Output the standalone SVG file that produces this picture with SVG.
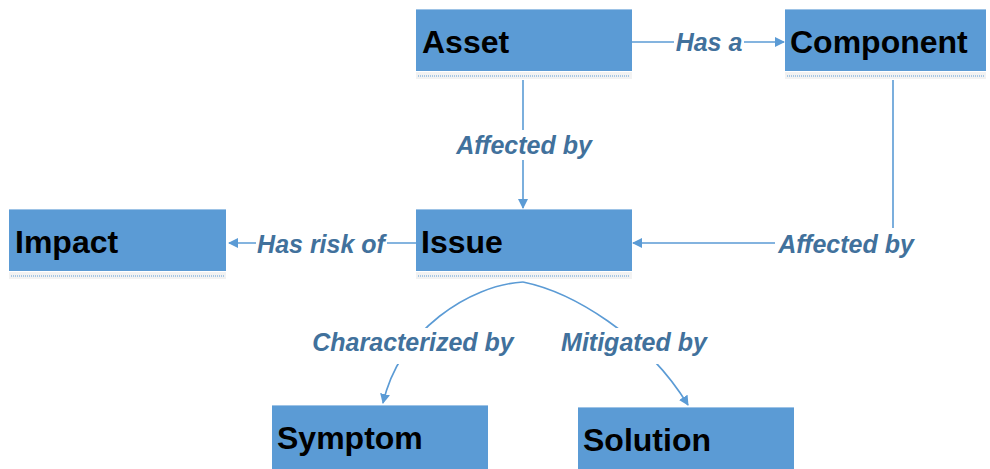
<svg xmlns="http://www.w3.org/2000/svg" width="990" height="469" viewBox="0 0 990 469">
  <style>
    .box { fill: #5b9bd5; }
    .top { stroke: #9dc3e6; stroke-width: 1; }
    .shadow { fill: #f2f2f2; }
    .dots { stroke: #5b9bd5; stroke-width: 1; stroke-dasharray: 1 1; }
    .name { font-family: "Liberation Sans", Arial, sans-serif; font-weight: bold; font-size: 32px; fill: #000; }
    .edge { fill: none; stroke: #5b9bd5; stroke-width: 1.6; }
    .lbl { font-family: "Liberation Sans", Arial, sans-serif; font-weight: bold; font-style: italic; font-size: 25px; fill: #41719c; text-anchor: middle; }
    .bg { fill: #ffffff; }
  </style>
  <defs>
    <marker id="arrow" viewBox="0 0 10 10" refX="9" refY="5" markerWidth="10" markerHeight="10" markerUnits="userSpaceOnUse" orient="auto">
      <path d="M0,0 L10,5 L0,10 z" fill="#5b9bd5"/>
    </marker>
  </defs>

  <rect width="990" height="469" fill="#ffffff"/>

  <!-- connectors -->
  <g id="connectors">
    <path class="edge" d="M632,42 H784" marker-end="url(#arrow)"/>
    <path class="edge" d="M523,80 V208" marker-end="url(#arrow)"/>
    <path class="edge" d="M893,80 V243 H633" marker-end="url(#arrow)"/>
    <path class="edge" d="M416,243 H229" marker-end="url(#arrow)"/>
    <path class="edge" d="M523,282 C470,285 400,330 383,403" marker-end="url(#arrow)"/>
    <path class="edge" d="M523,282 C572,292 645,335 688,405" marker-end="url(#arrow)"/>

    <rect class="bg" x="674" y="30" width="70" height="26"/>
    <text class="lbl" x="709" y="51">Has a</text>

    <rect class="bg" x="454" y="130" width="140" height="30"/>
    <text class="lbl" x="524" y="154">Affected by</text>

    <rect class="bg" x="775" y="228" width="143" height="32"/>
    <text class="lbl" x="846" y="253">Affected by</text>

    <rect class="bg" x="256" y="230" width="131" height="30"/>
    <text class="lbl" x="321" y="253">Has risk of</text>

    <rect class="bg" x="310" y="328" width="207" height="36"/>
    <text class="lbl" x="413" y="351">Characterized by</text>

    <rect class="bg" x="553" y="328" width="162" height="36"/>
    <text class="lbl" x="634" y="351">Mitigated by</text>
  </g>

  <g id="asset">
    <rect class="shadow" x="416" y="72" width="216" height="7"/>
    <line class="dots" x1="418" y1="76" x2="630" y2="76"/>
    <rect class="box" x="416" y="9" width="216" height="62"/>
    <line class="top" x1="416" y1="9.5" x2="632" y2="9.5"/>
    <text class="name" x="422" y="53">Asset</text>
  </g>

  <g id="component">
    <rect class="shadow" x="785" y="72" width="201" height="7"/>
    <line class="dots" x1="787" y1="76" x2="984" y2="76"/>
    <rect class="box" x="785" y="9" width="201" height="62"/>
    <line class="top" x1="785" y1="9.5" x2="986" y2="9.5"/>
    <text class="name" x="790" y="53">Component</text>
  </g>

  <g id="impact">
    <rect class="shadow" x="9" y="272" width="217" height="7"/>
    <line class="dots" x1="11" y1="276" x2="224" y2="276"/>
    <rect class="box" x="9" y="209" width="217" height="62"/>
    <line class="top" x1="9" y1="209.5" x2="226" y2="209.5"/>
    <text class="name" x="15" y="253">Impact</text>
  </g>

  <g id="issue">
    <rect class="shadow" x="416" y="272" width="216" height="7"/>
    <line class="dots" x1="418" y1="276" x2="630" y2="276"/>
    <rect class="box" x="416" y="209" width="216" height="62"/>
    <line class="top" x1="416" y1="209.5" x2="632" y2="209.5"/>
    <text class="name" x="421" y="253">Issue</text>
  </g>

  <g id="symptom">
    <rect class="box" x="272" y="405" width="216" height="64"/>
    <line class="top" x1="272" y1="405.5" x2="488" y2="405.5"/>
    <text class="name" x="277" y="449">Symptom</text>
  </g>

  <g id="solution">
    <rect class="box" x="578" y="407" width="216" height="62"/>
    <line class="top" x1="578" y1="407.5" x2="794" y2="407.5"/>
    <text class="name" x="583" y="451">Solution</text>
  </g>
</svg>
